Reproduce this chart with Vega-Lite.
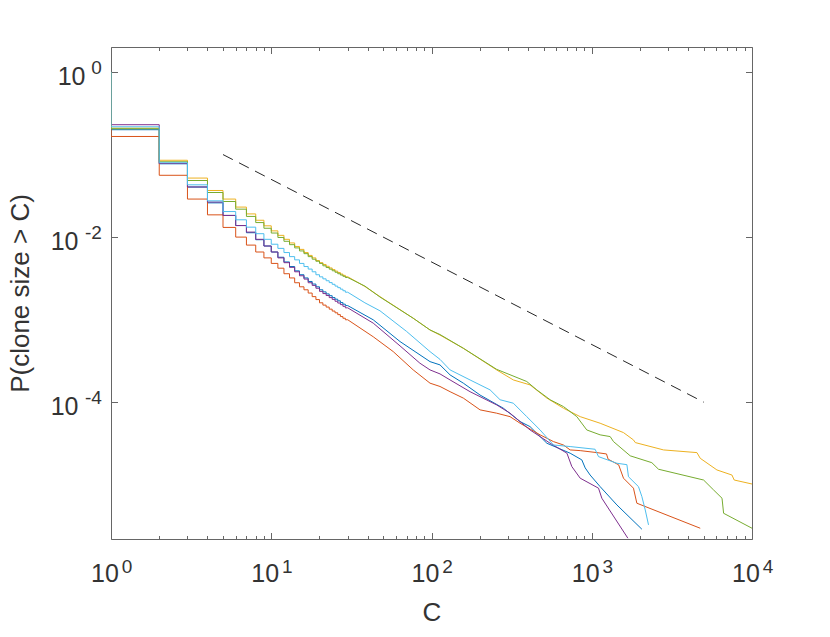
{
  "$schema": "https://vega.github.io/schema/vega-lite/v6.json",
  "width": 641,
  "height": 492,
  "autosize": "none",
  "padding": {"left": 111, "top": 47, "right": 78, "bottom": 98},
  "background": "white",
  "data": {
    "values": [
      {"series": "data1", "C": 1, "P": 1},
      {"series": "data1", "C": 2, "P": 0.2},
      {"series": "data1", "C": 3, "P": 0.0773},
      {"series": "data1", "C": 4, "P": 0.0404},
      {"series": "data1", "C": 5, "P": 0.026},
      {"series": "data1", "C": 6, "P": 0.0183},
      {"series": "data1", "C": 7, "P": 0.0138},
      {"series": "data1", "C": 8, "P": 0.0113},
      {"series": "data1", "C": 9, "P": 0.0093},
      {"series": "data1", "C": 10, "P": 0.0078},
      {"series": "data1", "C": 11, "P": 0.0066},
      {"series": "data1", "C": 12, "P": 0.0057},
      {"series": "data1", "C": 13, "P": 0.005},
      {"series": "data1", "C": 14, "P": 0.0044},
      {"series": "data1", "C": 15, "P": 0.0039},
      {"series": "data1", "C": 16, "P": 0.0035},
      {"series": "data1", "C": 17, "P": 0.0032},
      {"series": "data1", "C": 18, "P": 0.0029},
      {"series": "data1", "C": 19, "P": 0.0027},
      {"series": "data1", "C": 20, "P": 0.0025},
      {"series": "data1", "C": 21, "P": 0.0023},
      {"series": "data1", "C": 22, "P": 0.00217},
      {"series": "data1", "C": 23, "P": 0.00205},
      {"series": "data1", "C": 24, "P": 0.00195},
      {"series": "data1", "C": 25, "P": 0.00185},
      {"series": "data1", "C": 26, "P": 0.00177},
      {"series": "data1", "C": 27, "P": 0.00169},
      {"series": "data1", "C": 28, "P": 0.00161},
      {"series": "data1", "C": 29, "P": 0.00154},
      {"series": "data1", "C": 30, "P": 0.00148},
      {"series": "data1", "C": 43.3, "P": 0.000995},
      {"series": "data1", "C": 63.6, "P": 0.000543},
      {"series": "data1", "C": 80, "P": 0.000403},
      {"series": "data1", "C": 97.9, "P": 0.00031},
      {"series": "data1", "C": 113, "P": 0.000283},
      {"series": "data1", "C": 130.6, "P": 0.000214},
      {"series": "data1", "C": 158, "P": 0.00017},
      {"series": "data1", "C": 201, "P": 0.000122},
      {"series": "data1", "C": 281, "P": 0.0000845},
      {"series": "data1", "C": 357, "P": 0.0000582},
      {"series": "data1", "C": 412, "P": 0.0000506},
      {"series": "data1", "C": 525, "P": 0.0000318},
      {"series": "data1", "C": 733, "P": 0.0000241},
      {"series": "data1", "C": 867, "P": 0.00002},
      {"series": "data1", "C": 910, "P": 0.000016},
      {"series": "data1", "C": 977, "P": 0.0000131},
      {"series": "data1", "C": 1128, "P": 0.00000948},
      {"series": "data1", "C": 1435, "P": 0.00000569},
      {"series": "data1", "C": 2055, "P": 0.00000289},

      {"series": "data2", "C": 1, "P": 1},
      {"series": "data2", "C": 2, "P": 0.1656},
      {"series": "data2", "C": 3, "P": 0.0561},
      {"series": "data2", "C": 4, "P": 0.0289},
      {"series": "data2", "C": 5, "P": 0.0186},
      {"series": "data2", "C": 6, "P": 0.0131},
      {"series": "data2", "C": 7, "P": 0.01},
      {"series": "data2", "C": 8, "P": 0.008},
      {"series": "data2", "C": 9, "P": 0.0066},
      {"series": "data2", "C": 10, "P": 0.0056},
      {"series": "data2", "C": 11, "P": 0.0048},
      {"series": "data2", "C": 12, "P": 0.0042},
      {"series": "data2", "C": 13, "P": 0.0036},
      {"series": "data2", "C": 14, "P": 0.0032},
      {"series": "data2", "C": 15, "P": 0.0028},
      {"series": "data2", "C": 16, "P": 0.0025},
      {"series": "data2", "C": 17, "P": 0.0023},
      {"series": "data2", "C": 18, "P": 0.0021},
      {"series": "data2", "C": 19, "P": 0.0019},
      {"series": "data2", "C": 20, "P": 0.00175},
      {"series": "data2", "C": 21, "P": 0.0016},
      {"series": "data2", "C": 22, "P": 0.0015},
      {"series": "data2", "C": 23, "P": 0.00142},
      {"series": "data2", "C": 24, "P": 0.00134},
      {"series": "data2", "C": 25, "P": 0.00127},
      {"series": "data2", "C": 26, "P": 0.00121},
      {"series": "data2", "C": 27, "P": 0.00115},
      {"series": "data2", "C": 28, "P": 0.00109},
      {"series": "data2", "C": 29, "P": 0.00104},
      {"series": "data2", "C": 30, "P": 0.000997},
      {"series": "data2", "C": 43.3, "P": 0.00062},
      {"series": "data2", "C": 57.7, "P": 0.00041},
      {"series": "data2", "C": 76.9, "P": 0.000246},
      {"series": "data2", "C": 97.9, "P": 0.00017},
      {"series": "data2", "C": 113, "P": 0.000155},
      {"series": "data2", "C": 130.6, "P": 0.000134},
      {"series": "data2", "C": 158, "P": 0.000112},
      {"series": "data2", "C": 201, "P": 0.0000807},
      {"series": "data2", "C": 255, "P": 0.0000736},
      {"series": "data2", "C": 309, "P": 0.0000668},
      {"series": "data2", "C": 357, "P": 0.0000556},
      {"series": "data2", "C": 476, "P": 0.0000402},
      {"series": "data2", "C": 577, "P": 0.0000333},
      {"series": "data2", "C": 666, "P": 0.0000303},
      {"series": "data2", "C": 733, "P": 0.0000264},
      {"series": "data2", "C": 847, "P": 0.0000259},
      {"series": "data2", "C": 1076, "P": 0.0000245},
      {"series": "data2", "C": 1236, "P": 0.0000236},
      {"series": "data2", "C": 1265, "P": 0.0000204},
      {"series": "data2", "C": 1472, "P": 0.0000174},
      {"series": "data2", "C": 1578, "P": 0.000012},
      {"series": "data2", "C": 1821, "P": 0.00000908},
      {"series": "data2", "C": 1912, "P": 0.00000597},
      {"series": "data2", "C": 4754, "P": 0.00000297},

      {"series": "data3", "C": 1, "P": 1},
      {"series": "data3", "C": 2, "P": 0.209},
      {"series": "data3", "C": 3, "P": 0.0853},
      {"series": "data3", "C": 4, "P": 0.0519},
      {"series": "data3", "C": 5, "P": 0.0367},
      {"series": "data3", "C": 6, "P": 0.0289},
      {"series": "data3", "C": 7, "P": 0.0231},
      {"series": "data3", "C": 8, "P": 0.0191},
      {"series": "data3", "C": 9, "P": 0.016},
      {"series": "data3", "C": 10, "P": 0.0137},
      {"series": "data3", "C": 11, "P": 0.0119},
      {"series": "data3", "C": 12, "P": 0.0105},
      {"series": "data3", "C": 13, "P": 0.0094},
      {"series": "data3", "C": 14, "P": 0.0085},
      {"series": "data3", "C": 15, "P": 0.0077},
      {"series": "data3", "C": 16, "P": 0.0071},
      {"series": "data3", "C": 17, "P": 0.0065},
      {"series": "data3", "C": 18, "P": 0.006},
      {"series": "data3", "C": 19, "P": 0.0056},
      {"series": "data3", "C": 20, "P": 0.0052},
      {"series": "data3", "C": 21, "P": 0.0049},
      {"series": "data3", "C": 22, "P": 0.00466},
      {"series": "data3", "C": 23, "P": 0.00443},
      {"series": "data3", "C": 24, "P": 0.00423},
      {"series": "data3", "C": 25, "P": 0.00404},
      {"series": "data3", "C": 26, "P": 0.00387},
      {"series": "data3", "C": 27, "P": 0.00372},
      {"series": "data3", "C": 28, "P": 0.00357},
      {"series": "data3", "C": 29, "P": 0.00344},
      {"series": "data3", "C": 30, "P": 0.00331},
      {"series": "data3", "C": 38.4, "P": 0.00252},
      {"series": "data3", "C": 47.7, "P": 0.0019},
      {"series": "data3", "C": 76.9, "P": 0.00104},
      {"series": "data3", "C": 97.9, "P": 0.00075},
      {"series": "data3", "C": 113, "P": 0.00065},
      {"series": "data3", "C": 158, "P": 0.00045},
      {"series": "data3", "C": 255, "P": 0.000246},
      {"series": "data3", "C": 324, "P": 0.000186},
      {"series": "data3", "C": 412, "P": 0.000162},
      {"series": "data3", "C": 525, "P": 0.000112},
      {"series": "data3", "C": 666, "P": 0.0000845},
      {"series": "data3", "C": 847, "P": 0.0000668},
      {"series": "data3", "C": 1128, "P": 0.0000556},
      {"series": "data3", "C": 1578, "P": 0.0000428},
      {"series": "data3", "C": 1821, "P": 0.0000349},
      {"series": "data3", "C": 1870, "P": 0.0000324},
      {"series": "data3", "C": 2805, "P": 0.0000264},
      {"series": "data3", "C": 4532, "P": 0.0000245},
      {"series": "data3", "C": 4754, "P": 0.0000209},
      {"series": "data3", "C": 6040, "P": 0.0000151},
      {"series": "data3", "C": 7497, "P": 0.0000131},
      {"series": "data3", "C": 7745, "P": 0.0000114},
      {"series": "data3", "C": 10000, "P": 0.0000102},

      {"series": "data4", "C": 1, "P": 1},
      {"series": "data4", "C": 2, "P": 0.23},
      {"series": "data4", "C": 3, "P": 0.078},
      {"series": "data4", "C": 4, "P": 0.0405},
      {"series": "data4", "C": 5, "P": 0.0266},
      {"series": "data4", "C": 6, "P": 0.0183},
      {"series": "data4", "C": 7, "P": 0.0138},
      {"series": "data4", "C": 8, "P": 0.0115},
      {"series": "data4", "C": 9, "P": 0.0094},
      {"series": "data4", "C": 10, "P": 0.0078},
      {"series": "data4", "C": 11, "P": 0.0066},
      {"series": "data4", "C": 12, "P": 0.0056},
      {"series": "data4", "C": 13, "P": 0.0049},
      {"series": "data4", "C": 14, "P": 0.0043},
      {"series": "data4", "C": 15, "P": 0.0038},
      {"series": "data4", "C": 16, "P": 0.0034},
      {"series": "data4", "C": 17, "P": 0.0031},
      {"series": "data4", "C": 18, "P": 0.0028},
      {"series": "data4", "C": 19, "P": 0.0026},
      {"series": "data4", "C": 20, "P": 0.0024},
      {"series": "data4", "C": 21, "P": 0.0022},
      {"series": "data4", "C": 22, "P": 0.00207},
      {"series": "data4", "C": 23, "P": 0.00196},
      {"series": "data4", "C": 24, "P": 0.00185},
      {"series": "data4", "C": 25, "P": 0.00176},
      {"series": "data4", "C": 26, "P": 0.00167},
      {"series": "data4", "C": 27, "P": 0.00159},
      {"series": "data4", "C": 28, "P": 0.00152},
      {"series": "data4", "C": 29, "P": 0.00145},
      {"series": "data4", "C": 30, "P": 0.00139},
      {"series": "data4", "C": 43.3, "P": 0.000907},
      {"series": "data4", "C": 63.6, "P": 0.000481},
      {"series": "data4", "C": 84.6, "P": 0.000297},
      {"series": "data4", "C": 97.9, "P": 0.000246},
      {"series": "data4", "C": 113, "P": 0.00022},
      {"series": "data4", "C": 130.6, "P": 0.000186},
      {"series": "data4", "C": 174, "P": 0.000134},
      {"series": "data4", "C": 255, "P": 0.0000927},
      {"series": "data4", "C": 309, "P": 0.0000736},
      {"series": "data4", "C": 412, "P": 0.0000461},
      {"series": "data4", "C": 550, "P": 0.0000318},
      {"series": "data4", "C": 700, "P": 0.0000241},
      {"series": "data4", "C": 751, "P": 0.0000166},
      {"series": "data4", "C": 847, "P": 0.000012},
      {"series": "data4", "C": 1102, "P": 0.00000908},
      {"series": "data4", "C": 1156, "P": 0.00000686},
      {"series": "data4", "C": 1680, "P": 0.00000225},

      {"series": "data5", "C": 1, "P": 1},
      {"series": "data5", "C": 2, "P": 0.2055},
      {"series": "data5", "C": 3, "P": 0.0818},
      {"series": "data5", "C": 4, "P": 0.0485},
      {"series": "data5", "C": 5, "P": 0.0347},
      {"series": "data5", "C": 6, "P": 0.027},
      {"series": "data5", "C": 7, "P": 0.0218},
      {"series": "data5", "C": 8, "P": 0.0178},
      {"series": "data5", "C": 9, "P": 0.015},
      {"series": "data5", "C": 10, "P": 0.0128},
      {"series": "data5", "C": 11, "P": 0.0112},
      {"series": "data5", "C": 12, "P": 0.0099},
      {"series": "data5", "C": 13, "P": 0.0089},
      {"series": "data5", "C": 14, "P": 0.0081},
      {"series": "data5", "C": 15, "P": 0.0074},
      {"series": "data5", "C": 16, "P": 0.0068},
      {"series": "data5", "C": 17, "P": 0.0063},
      {"series": "data5", "C": 18, "P": 0.0058},
      {"series": "data5", "C": 19, "P": 0.0054},
      {"series": "data5", "C": 20, "P": 0.0051},
      {"series": "data5", "C": 21, "P": 0.0048},
      {"series": "data5", "C": 22, "P": 0.00449},
      {"series": "data5", "C": 23, "P": 0.00428},
      {"series": "data5", "C": 24, "P": 0.00409},
      {"series": "data5", "C": 25, "P": 0.00391},
      {"series": "data5", "C": 26, "P": 0.00375},
      {"series": "data5", "C": 27, "P": 0.0036},
      {"series": "data5", "C": 28, "P": 0.00347},
      {"series": "data5", "C": 29, "P": 0.00335},
      {"series": "data5", "C": 30, "P": 0.00324},
      {"series": "data5", "C": 38.4, "P": 0.00255},
      {"series": "data5", "C": 47.7, "P": 0.00188},
      {"series": "data5", "C": 76.9, "P": 0.00104},
      {"series": "data5", "C": 97.9, "P": 0.00075},
      {"series": "data5", "C": 113, "P": 0.00066},
      {"series": "data5", "C": 158, "P": 0.00045},
      {"series": "data5", "C": 255, "P": 0.00025},
      {"series": "data5", "C": 393, "P": 0.000178},
      {"series": "data5", "C": 454, "P": 0.000141},
      {"series": "data5", "C": 550, "P": 0.000107},
      {"series": "data5", "C": 666, "P": 0.0000885},
      {"series": "data5", "C": 807, "P": 0.0000668},
      {"series": "data5", "C": 931, "P": 0.0000461},
      {"series": "data5", "C": 1128, "P": 0.0000402},
      {"series": "data5", "C": 1303, "P": 0.0000383},
      {"series": "data5", "C": 1367, "P": 0.0000333},
      {"series": "data5", "C": 1738, "P": 0.0000224},
      {"series": "data5", "C": 2371, "P": 0.0000185},
      {"series": "data5", "C": 2610, "P": 0.0000154},
      {"series": "data5", "C": 4987, "P": 0.0000114},
      {"series": "data5", "C": 5756, "P": 0.00000865},
      {"series": "data5", "C": 6501, "P": 0.00000686},
      {"series": "data5", "C": 6650, "P": 0.00000451},
      {"series": "data5", "C": 10000, "P": 0.00000297},

      {"series": "data6", "C": 1, "P": 1},
      {"series": "data6", "C": 2, "P": 0.217},
      {"series": "data6", "C": 3, "P": 0.0795},
      {"series": "data6", "C": 4, "P": 0.043},
      {"series": "data6", "C": 5, "P": 0.0275},
      {"series": "data6", "C": 6, "P": 0.0204},
      {"series": "data6", "C": 7, "P": 0.0162},
      {"series": "data6", "C": 8, "P": 0.0132},
      {"series": "data6", "C": 9, "P": 0.011},
      {"series": "data6", "C": 10, "P": 0.0094},
      {"series": "data6", "C": 11, "P": 0.0082},
      {"series": "data6", "C": 12, "P": 0.0073},
      {"series": "data6", "C": 13, "P": 0.0065},
      {"series": "data6", "C": 14, "P": 0.0058},
      {"series": "data6", "C": 15, "P": 0.0053},
      {"series": "data6", "C": 16, "P": 0.0048},
      {"series": "data6", "C": 17, "P": 0.0044},
      {"series": "data6", "C": 18, "P": 0.0041},
      {"series": "data6", "C": 19, "P": 0.0038},
      {"series": "data6", "C": 20, "P": 0.0035},
      {"series": "data6", "C": 21, "P": 0.0033},
      {"series": "data6", "C": 22, "P": 0.00312},
      {"series": "data6", "C": 23, "P": 0.00296},
      {"series": "data6", "C": 24, "P": 0.00281},
      {"series": "data6", "C": 25, "P": 0.00268},
      {"series": "data6", "C": 26, "P": 0.00255},
      {"series": "data6", "C": 27, "P": 0.00244},
      {"series": "data6", "C": 28, "P": 0.00234},
      {"series": "data6", "C": 29, "P": 0.00224},
      {"series": "data6", "C": 30, "P": 0.00215},
      {"series": "data6", "C": 38.4, "P": 0.0016},
      {"series": "data6", "C": 47.7, "P": 0.00128},
      {"series": "data6", "C": 69.9, "P": 0.00072},
      {"series": "data6", "C": 97.9, "P": 0.00041},
      {"series": "data6", "C": 113, "P": 0.00033},
      {"series": "data6", "C": 130.6, "P": 0.000246},
      {"series": "data6", "C": 174, "P": 0.000186},
      {"series": "data6", "C": 232, "P": 0.000141},
      {"series": "data6", "C": 268, "P": 0.000107},
      {"series": "data6", "C": 324, "P": 0.0000972},
      {"series": "data6", "C": 393, "P": 0.0000668},
      {"series": "data6", "C": 476, "P": 0.0000461},
      {"series": "data6", "C": 577, "P": 0.0000303},
      {"series": "data6", "C": 733, "P": 0.000029},
      {"series": "data6", "C": 1049, "P": 0.0000269},
      {"series": "data6", "C": 1102, "P": 0.0000219},
      {"series": "data6", "C": 1435, "P": 0.0000182},
      {"series": "data6", "C": 1657, "P": 0.0000175},
      {"series": "data6", "C": 1695, "P": 0.0000125},
      {"series": "data6", "C": 1957, "P": 0.00000948},
      {"series": "data6", "C": 2055, "P": 0.00000718},
      {"series": "data6", "C": 2157, "P": 0.00000495},
      {"series": "data6", "C": 2261, "P": 0.00000326}
    ]
  },
  "layer": [
    {
      "transform": [{"filter": "datum.C <= 30"}],
      "mark": {"type": "line", "interpolate": "step-before", "strokeWidth": 1, "clip": true},
      "encoding": {
        "x": {
          "field": "C", "type": "quantitative",
          "scale": {"type": "log", "domain": [1, 10000], "nice": false},
          "axis": {
            "orient": "bottom", "values": [1, 10, 100, 1000, 10000], "labelExpr": "'10'",
            "ticks": false, "tickSize": 0, "domain": false, "labelAlign": "center", "labelBaseline": "alphabetic",
            "labelPadding": 42, "labelOffset": -6.5, "labelFontSize": 25,
            "labelFlush": false, "labelOverlap": false,
            "title": "C", "titleFontSize": 26, "titlePadding": 13
          }
        },
        "y": {
          "field": "P", "type": "quantitative",
          "scale": {"type": "log", "domain": [0.0000022, 2.01], "nice": false},
          "axis": {
            "orient": "left", "values": [1, 0.01, 0.0001], "labelExpr": "'10'",
            "ticks": false, "tickSize": 0, "domain": false, "labelAlign": "right", "labelBaseline": "alphabetic",
            "labelPadding": {"condition": {"test": "datum.value > 0.5", "value": 26}, "value": 33},
            "labelOffset": 12.7, "labelFontSize": 25,
            "labelFlush": false, "labelOverlap": false,
            "title": "P(clone size > C)", "titleFontSize": 26, "titlePadding": 17
          }
        },
        "color": {
          "field": "series", "type": "nominal",
          "scale": {
            "domain": ["data1", "data2", "data3", "data4", "data5", "data6"],
            "range": ["#0072BD", "#D95319", "#EDB120", "#7E2F8E", "#77AC30", "#4DBEEE"]
          },
          "legend": null
        }
      }
    },
    {
      "transform": [{"filter": "datum.C >= 30"}],
      "mark": {"type": "line", "strokeWidth": 1, "clip": true},
      "encoding": {
        "x": {
          "field": "C", "type": "quantitative",
          "axis": {
            "orient": "bottom", "labels": false, "domain": false, "title": null,
            "values": [1, 2, 3, 4, 5, 6, 7, 8, 9, 10, 20, 30, 40, 50, 60, 70, 80, 90, 100, 200, 300, 400, 500, 600, 700, 800, 900, 1000, 2000, 3000, 4000, 5000, 6000, 7000, 8000, 9000, 10000],
            "tickSize": {"condition": {"test": "abs(log(datum.value) / LN10 - round(log(datum.value) / LN10)) < 0.001", "value": -6.5}, "value": -3.5}
          }
        },
        "y": {
          "field": "P", "type": "quantitative",
          "axis": {"orient": "left", "labels": false, "domain": false, "title": null, "values": [1, 0.01, 0.0001], "tickSize": -6.5}
        },
        "color": {"field": "series", "type": "nominal", "legend": null}
      }
    },
    {
      "data": {"values": [{"C": 5, "P": 0.1}, {"C": 5000, "P": 0.0001}]},
      "mark": {"type": "line", "color": "#262626", "strokeWidth": 1, "strokeDash": [11, 7]},
      "encoding": {
        "x": {
          "field": "C", "type": "quantitative",
          "axis": {
            "orient": "bottom", "values": [1, 10, 100, 1000, 10000],
            "labelExpr": "'' + round(log(datum.value) / LN10)",
            "ticks": false, "tickSize": 0, "domain": false, "labelAlign": "center", "labelBaseline": "alphabetic",
            "labelPadding": 33, "labelOffset": 15.5, "labelFontSize": 19,
            "labelFlush": false, "labelOverlap": false, "title": null
          }
        },
        "y": {
          "field": "P", "type": "quantitative",
          "axis": {
            "orient": "left", "values": [1, 0.01, 0.0001],
            "labelExpr": "'' + round(log(datum.value) / LN10)",
            "ticks": false, "tickSize": 0, "domain": false, "labelAlign": "right", "labelBaseline": "alphabetic",
            "labelPadding": 9.6, "labelOffset": 1.5, "labelFontSize": 19,
            "labelFlush": false, "labelOverlap": false, "title": null
          }
        }
      }
    },
    {
      "data": {"values": [{"C": 5, "P": 0.1}, {"C": 5000, "P": 0.0001}]},
      "mark": {"type": "line", "strokeOpacity": 0},
      "encoding": {
        "x": {
          "field": "C", "type": "quantitative",
          "axis": {
            "orient": "top", "labels": false, "domain": false, "title": null,
            "values": [1, 2, 3, 4, 5, 6, 7, 8, 9, 10, 20, 30, 40, 50, 60, 70, 80, 90, 100, 200, 300, 400, 500, 600, 700, 800, 900, 1000, 2000, 3000, 4000, 5000, 6000, 7000, 8000, 9000, 10000],
            "tickSize": {"condition": {"test": "abs(log(datum.value) / LN10 - round(log(datum.value) / LN10)) < 0.001", "value": -6.5}, "value": -3.5}
          }
        },
        "y": {
          "field": "P", "type": "quantitative",
          "axis": {"orient": "right", "labels": false, "domain": false, "title": null, "values": [1, 0.01, 0.0001], "tickSize": -6.5}
        }
      }
    }
  ],
  "resolve": {"axis": {"x": "independent", "y": "independent"}},
  "config": {
    "view": {"stroke": "#666666", "strokeWidth": 1},
    "axis": {
      "grid": false,
      "labelFont": "Liberation Sans",
      "labelColor": "#333333",
      "titleFont": "Liberation Sans",
      "titleColor": "#333333",
      "titleFontWeight": "normal",
      "tickColor": "#666666",
      "tickWidth": 1
    }
  }
}
